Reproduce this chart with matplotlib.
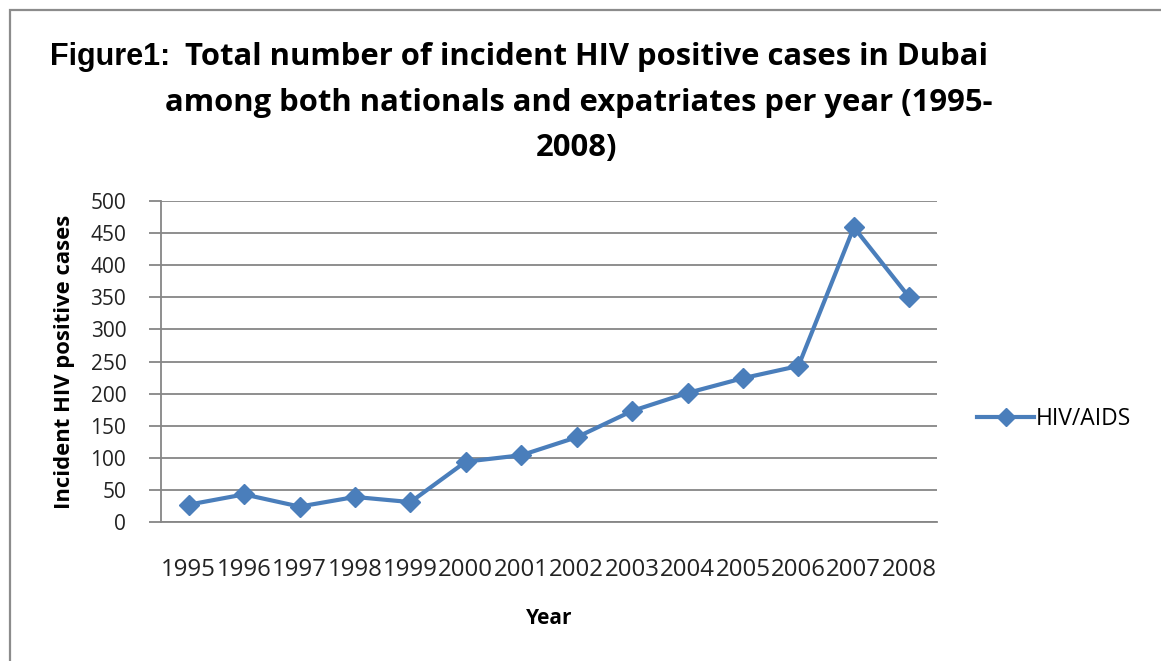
import matplotlib
matplotlib.use("Agg")
import matplotlib.pyplot as plt
from matplotlib.patches import Rectangle

years = ["1995", "1996", "1997", "1998", "1999", "2000", "2001", "2002",
         "2003", "2004", "2005", "2006", "2007", "2008"]
cases = [27, 43, 24, 39, 31, 94, 104, 132, 173, 201, 224, 243, 459, 350]
yticks = [0, 50, 100, 150, 200, 250, 300, 350, 400, 450, 500]

W, H = 1161, 661
FONT = "Open Sans"
fig = plt.figure(figsize=(W / 100, H / 100), dpi=100)
fig.patch.set_facecolor("white")

# outer frame
fig.add_artist(Rectangle((10 / W, -0.1), 1.2, 1 - 10 / H + 0.1, transform=fig.transFigure,
                         fill=False, edgecolor="#8c8c8c", linewidth=1.6))

ax = fig.add_axes([161 / W, 1 - 522 / H, (937 - 161) / W, (522 - 201) / H])
x = list(range(len(years)))
ax.plot(x, cases, color="#4A7EBB", linewidth=3, marker="D", markersize=10.5,
        label="HIV/AIDS", solid_joinstyle="round")
ax.set_xlim(-0.5, len(years) - 0.5)
ax.set_ylim(0, 500)
ax.set_yticks(yticks)
ax.set_yticklabels([str(v) for v in yticks], fontsize=15, family=FONT, color="#222222")
ax.set_xticks(x)
ax.set_xticklabels(years, fontsize=17.3, family=FONT, color="#222222")
ax.tick_params(axis="x", length=0, pad=26)
ax.tick_params(axis="y", length=9, color="#868686", width=1.3, pad=16)
ax.grid(axis="y", color="#868686", linewidth=1.3)
ax.set_axisbelow(True)
for s in ["top", "right"]:
    ax.spines[s].set_visible(False)
for s in ["left", "bottom"]:
    ax.spines[s].set_color("#868686")
    ax.spines[s].set_linewidth(1.3)

ax.set_xlabel("Year", fontsize=15, family=FONT, fontweight="bold", labelpad=19)
ax.set_ylabel("Incident HIV positive cases", fontsize=15.8, family=FONT,
              fontweight="bold", labelpad=11)

leg = ax.legend(loc="center left", bbox_to_anchor=(1.04, 0.32), frameon=False,
                prop={"family": FONT, "size": 16.5}, handlelength=2.5,
                handletextpad=0.05, borderaxespad=0, markerscale=0.85)

# title
fig.text(50 / W, 1 - 65 / H, "Figure1:", family="Liberation Sans", fontweight="bold",
         fontsize=22, ha="left", va="baseline")
fig.text(185 / W, 1 - 65 / H, "Total number of incident HIV positive cases in Dubai",
         family=FONT, fontweight="bold", fontsize=22.3, ha="left", va="baseline")
fig.text(579 / W, 1 - 111 / H, "among both nationals and expatriates per year (1995-",
         family=FONT, fontweight="bold", fontsize=22.3, ha="center", va="baseline")
fig.text(577 / W, 1 - 156 / H, "2008)",
         family=FONT, fontweight="bold", fontsize=22.3, ha="center", va="baseline")

fig.savefig("out.png", dpi=100)
